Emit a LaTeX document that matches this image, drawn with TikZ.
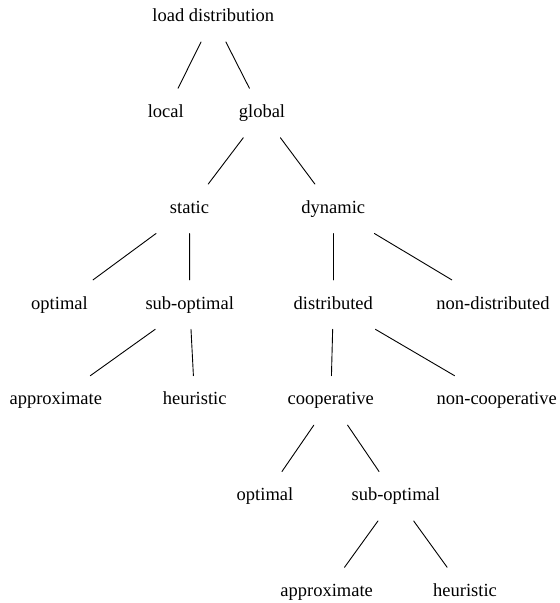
\documentclass[tikz,border=0pt]{standalone}
\usepackage{fontspec}
\setmainfont{Liberation Serif}
\begin{document}
\begin{tikzpicture}[x=1pt, y=-1pt, line join=round, line cap=round,
		font=\fontsize{18.5}{22}\selectfont,
		term/.style={inner xsep=20pt, inner ysep=0pt, text height=13pt, text depth=4pt, minimum height=49pt},
		edge/.style={line width=0.9pt}]
				\useasboundingbox (0,0) rectangle (560,603);
				% levels of the taxonomy
				\node[term] (ld) at (213.3,17.2) {load distribution};
				\node[term] (local) at (165.8,113) {local};
				\node[term] (global) at (262,113) {global};
				\node[term] (static) at (189.5,208.8) {static};
				\node[term] (dynamic) at (333.3,208.8) {dynamic};
				\node[term] (sopt) at (59.5,304.6) {optimal};
				\node[term] (ssub) at (189.7,304.6) {sub-optimal};
				\node[term] (dist) at (333.3,304.6) {distributed};
				\node[term] (ndist) at (493,304.6) {non-distributed};
				\node[term] (sapprox) at (55.8,400.4) {approximate};
				\node[term] (sheur) at (194.7,400.4) {heuristic};
				\node[term] (coop) at (330.8,400.4) {cooperative};
				\node[term] (ncoop) at (496.7,400.4) {non-cooperative};
				\node[term] (copt) at (265,496.2) {optimal};
				\node[term] (csub) at (395.8,496.2) {sub-optimal};
				\node[term] (capprox) at (326.7,592) {approximate};
				\node[term] (cheur) at (465,592) {heuristic};
				% branches
				\draw[edge] (ld)--(local);
				\draw[edge] (ld)--(global);
				\draw[edge] (global)--(static);
				\draw[edge] (global)--(dynamic);
				\draw[edge] (static)--(sopt);
				\draw[edge] (static)--(ssub);
				\draw[edge] (dynamic)--(dist);
				\draw[edge] (dynamic)--(ndist);
				\draw[edge] (ssub)--(sapprox);
				\draw[edge] (ssub)--(sheur);
				\draw[edge] (dist)--(coop);
				\draw[edge] (dist)--(ncoop);
				\draw[edge] (coop)--(copt);
				\draw[edge] (coop)--(csub);
				\draw[edge] (csub)--(capprox);
				\draw[edge] (csub)--(cheur);
			\end{tikzpicture}
\end{document}
